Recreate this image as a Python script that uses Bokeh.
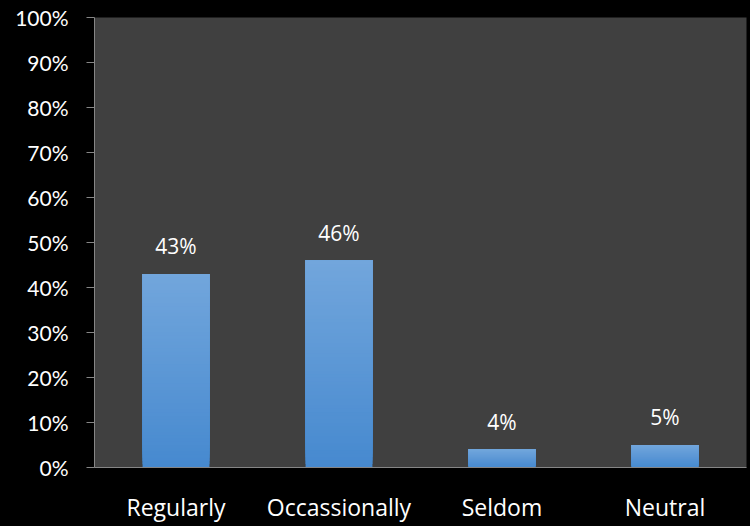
from bokeh.plotting import figure
from bokeh.models import ColumnDataSource, FactorRange, Range1d, FixedTicker, NumeralTickFormatter
from bokeh.core.properties import value
from bokeh.embed import file_html
from bokeh.resources import INLINE

categories = ["Regularly", "Occassionally", "Seldom", "Neutral"]
values = [0.43, 0.46, 0.04, 0.05]
value_labels = ["43%", "46%", "4%", "5%"]
y_ticks = [0.0, 0.1, 0.2, 0.3, 0.4, 0.5, 0.6, 0.7, 0.8, 0.9, 1.0]

FONT = "Lato"
XFONT = "Open Sans"
TOP_RGB = (114, 166, 220)
BOT_RGB = (70, 137, 207)

p = figure(x_range=FactorRange(*categories, range_padding=0), y_range=Range1d(0, 1),
           width=750, height=526, output_backend="svg", toolbar_location=None,
           min_border_left=94, min_border_right=4, min_border_top=17, min_border_bottom=59)
p.background_fill_color = "#404040"
p.border_fill_color = "#000000"
p.outline_line_color = None
p.xgrid.grid_line_color = None
p.ygrid.grid_line_color = None

# gradient bars: overlapping slices, each from its start up to the bar's value
n = 60
xs, bots, tops, cols = [], [], [], []
for i in range(n):
    f0 = i / n
    t = (i + 0.5) / n
    rgb = tuple(int(round(b + (tp - b) * t)) for b, tp in zip(BOT_RGB, TOP_RGB))
    for c, v in zip(categories, values):
        xs.append(c)
        bots.append(v * f0)
        tops.append(v)
        cols.append("#%02x%02x%02x" % rgb)
src = ColumnDataSource(dict(x=xs, bottom=bots, top=tops, color=cols))
p.vbar(x="x", bottom="bottom", top="top", width=0.41, fill_color="color", line_color=None,
       source=src)

lab_src = ColumnDataSource(dict(x=categories, y=values, t=value_labels))
p.text(x="x", y="y", text="t", source=lab_src, y_offset=-28,
       text_align="center", text_baseline="alphabetic",
       text_color="white", text_font=value(XFONT), text_font_size="21px")

p.yaxis.ticker = FixedTicker(ticks=y_ticks)
p.yaxis.formatter = NumeralTickFormatter(format="0%")
p.yaxis.major_label_text_color = "white"
p.yaxis.major_label_text_font = FONT
p.yaxis.major_label_text_font_size = "21px"
p.yaxis.major_label_standoff = 18
p.yaxis.axis_line_color = "#868686"
p.yaxis.major_tick_line_color = "#868686"
p.yaxis.major_tick_out = 8
p.yaxis.major_tick_in = 0
p.yaxis.minor_tick_line_color = None

p.xaxis.axis_line_color = "#868686"
p.xaxis.major_tick_line_color = None
p.xaxis.minor_tick_line_color = None
p.xaxis.major_label_text_color = "white"
p.xaxis.major_label_text_font = XFONT
p.xaxis.major_label_text_font_size = "23px"
p.xaxis.major_label_standoff = 17

html = file_html(p, INLINE)
html = html.replace("<head>", "<head><style>html,body{margin:0;padding:0;background:#000;overflow:hidden;}</style>", 1)
open("out.html", "w").write(html)
